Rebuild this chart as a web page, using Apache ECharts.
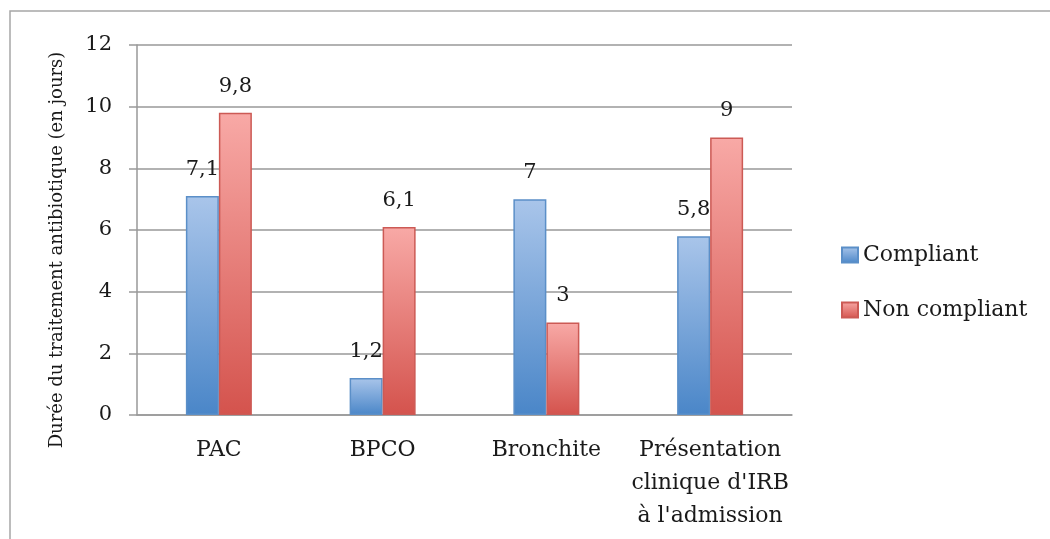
<!DOCTYPE html>
<html>
<head>
<meta charset="utf-8">
<script src="https://cdn.jsdelivr.net/npm/echarts@6/dist/echarts.min.js"></script>
<style>
  html, body { margin: 0; padding: 0; background: #fff; }
  #chart { width: 1050px; height: 539px; }
</style>
</head>
<body>
<div id="chart"></div>
<script>
// catégories et valeurs
const categories = ['PAC', 'BPCO', 'Bronchite', "Présentation\nclinique d'IRB\nà l'admission"]
const compliant = [7.1, 1.2, 7, 5.8]
const nonCompliant = [9.8, 6.1, 3, 9]
const seriesNames = ['Compliant', 'Non compliant']
const yTicks = [0, 2, 4, 6, 8, 10, 12]
const yName = 'Durée du traitement antibiotique (en jours)'

const font = 'DejaVu Serif'
const ink = '#1a1a1a'
const chart = echarts.init(document.getElementById('chart'))

const grad = (top, bottom) => new echarts.graphic.LinearGradient(0, 0, 0, 1, [
  { offset: 0, color: top },
  { offset: 1, color: bottom }
])

// 9.8 -> "9,8"
const fmt = (p) => String(p.value).replace('.', ',')

const option = {
  backgroundColor: '#fff',
  animation: false,
  graphic: [{
    type: 'rect',
    shape: { x: 10, y: 11, width: 1100, height: 600 },
    style: { fill: 'none', stroke: '#a6a6a6', lineWidth: 1.5 },
    silent: true
  }],
  grid: { left: 137, top: 45, right: 258, bottom: 124 },
  legend: {
    orient: 'vertical',
    left: 836,
    top: 237,
    itemGap: 29,
    itemWidth: 16,
    itemHeight: 15,
    icon: 'rect',
    textStyle: { fontFamily: font, fontSize: 22, lineHeight: 26, color: ink },
    data: seriesNames
  },
  xAxis: {
    type: 'category',
    data: categories,
    axisLine: { lineStyle: { color: '#999', width: 1.5 } },
    axisTick: { show: false },
    axisLabel: { fontFamily: font, fontSize: 22, color: ink, margin: 19, lineHeight: 33, interval: 0 }
  },
  yAxis: {
    type: 'value',
    min: yTicks[0],
    max: yTicks[yTicks.length - 1],
    interval: 2,
    name: yName,
    nameLocation: 'middle',
    nameGap: 71,
    nameTextStyle: { fontFamily: font, fontSize: 18, color: ink, padding: [0, 40, 0, 0] },
    axisLine: { show: true, lineStyle: { color: '#999', width: 1.5 } },
    axisTick: { show: true, length: 8, lineStyle: { color: '#999', width: 1.5 } },
    splitLine: { lineStyle: { color: '#999', width: 1.5 } },
    axisLabel: { fontFamily: font, fontSize: 21, color: ink, margin: 25 }
  },
  series: [
    {
      name: seriesNames[0],
      type: 'bar',
      data: compliant,
      barWidth: 33,
      barGap: '0%',
      itemStyle: { color: grad('#a9c5ea', '#4a86c8'), borderColor: '#5b8fc8', borderWidth: 1.5 },
      label: { show: true, position: 'top', distance: 16, fontFamily: font, fontSize: 21, color: ink, formatter: fmt }
    },
    {
      name: seriesNames[1],
      type: 'bar',
      data: nonCompliant,
      barWidth: 33,
      itemStyle: { color: grad('#f8a9a6', '#d4534d'), borderColor: '#cc5a55', borderWidth: 1.5 },
      label: { show: true, position: 'top', distance: 16, fontFamily: font, fontSize: 21, color: ink, formatter: fmt }
    }
  ]
}

chart.setOption(option)
</script>
</body>
</html>
